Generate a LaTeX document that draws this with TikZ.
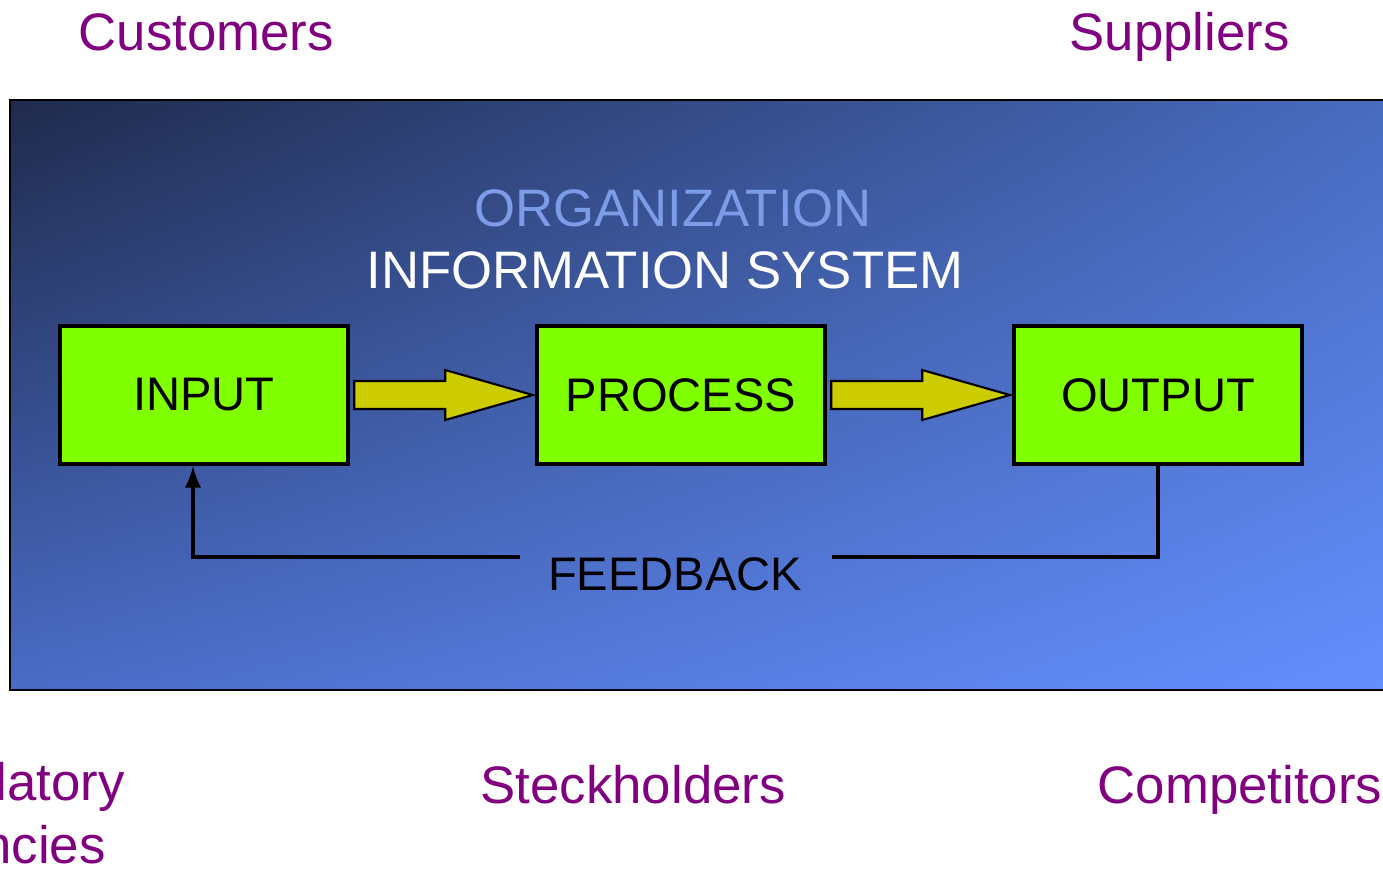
\documentclass[tikz,border=0pt]{standalone}
\usepackage{fontspec}
\setmainfont{Liberation Sans}
\usetikzlibrary{calc,shadings}

\definecolor{envpurple}{HTML}{800080}
\definecolor{boxgreen}{HTML}{80FF00}
\definecolor{arrowyellow}{HTML}{CCCC00}
\definecolor{orgblue}{HTML}{7C9CE8}
\definecolor{orgtl}{RGB}{31,42,76}
\definecolor{orgtr}{RGB}{72,108,192}
\definecolor{orgbl}{RGB}{74,108,198}
\definecolor{orgbr}{RGB}{100,144,255}

\tikzset{
  envlabel/.style={text=envpurple, font=\fontsize{15}{18}\selectfont, inner sep=0pt},
  stagebox/.style={draw, line width=1.2pt, fill=boxgreen, minimum width=2.88cm, minimum height=1.38cm, font=\fontsize{13.4}{16}\selectfont},
  blockarrow/.style={draw, line width=0.6pt, fill=arrowyellow},
  feedline/.style={line width=1.1pt}
}

\begin{document}
\begin{tikzpicture}[x=0.01cm, y=-0.01cm]

\useasboundingbox (0,0) rectangle (1383,875);
\clip (0,0) rectangle (1383,875);

% Organisation (gradient)
\shade[upper left=orgtl, upper right=orgtr, lower left=orgbl, lower right=orgbr]
  (10,100) rectangle (1395,690);
\draw[line width=0.7pt] (10,100) rectangle (1395,690);

% Titel
\node[envlabel, text=orgblue, anchor=base] (org) at (673,226) {ORGANIZATION};
\node[envlabel, text=white, anchor=base] (infosys) at (665,288) {INFORMATION SYSTEM};

% Stufen
\node[stagebox] (input) at (204,395) {\raisebox{-0.08cm}{INPUT}};
\node[stagebox] (process) at (681,395) {\raisebox{-0.08cm}{PROCESS}};
\node[stagebox] (output) at (1158,395) {\raisebox{-0.08cm}{OUTPUT}};

% Pfeile zwischen den Stufen
\foreach \a/\b in {input/process, process/output}
  \draw[blockarrow] ($(\a.east)+(4,-14)$) -- ++(91,0) -- ++(0,-11) -- ($(\b.west)+(-2,0)$)
    -- ($(\a.east)+(95,25)$) -- ++(0,-11) -- ($(\a.east)+(4,14)$) -- cycle;

% Rueckkopplung
\node[font=\fontsize{13.4}{16}\selectfont, inner sep=0pt, anchor=base] (feedback) at (675,590) {FEEDBACK};
\coordinate (fbright) at (832,557);
\coordinate (fbleft) at (520,557);
\draw[feedline] (output.south) |- (fbright);
\draw[feedline, -latex] (fbleft) -| ($(input.south)+(-11,0)$);

% Umwelt
\node[envlabel, anchor=base west] (customers) at (78,50) {Customers};
\node[envlabel, anchor=base west] (suppliers) at (1069,50) {Suppliers};
\node[envlabel, align=center] (agencies) at (-3,818) {Regulatory\\Agencies};
\node[envlabel, anchor=base west] (stakeholders) at (480,803) {Steckholders};
\node[envlabel, anchor=base west] (competitors) at (1097,803) {Competitors};

\end{tikzpicture}
\end{document}
